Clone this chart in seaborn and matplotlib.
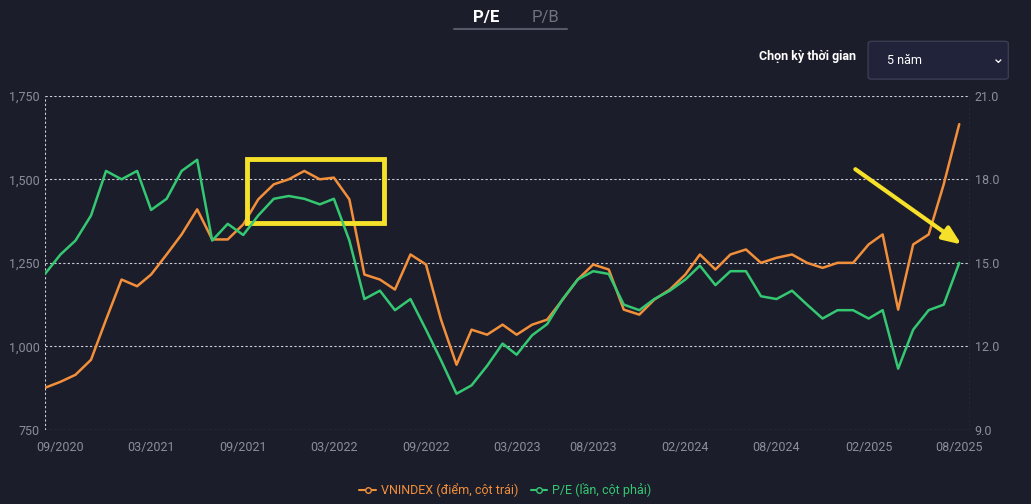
import pandas as pd
import numpy as np
import matplotlib.pyplot as plt
import matplotlib.dates as mdates
from matplotlib.patches import Rectangle, FancyBboxPatch
from matplotlib.lines import Line2D
import seaborn as sns

# monthly readings, Aug 2020 .. Aug 2025
months = pd.date_range('2020-08-01', '2025-08-01', freq='MS')
vnindex = [876, 894, 915, 960, 1080, 1200, 1180, 1215, 1275, 1335, 1410,
           1320, 1320, 1365, 1440, 1485, 1500, 1525, 1500, 1505, 1440, 1215,
           1200, 1170, 1275, 1245, 1080, 945, 1050, 1035, 1065, 1035, 1065,
           1080, 1140, 1200, 1245, 1230, 1110, 1095, 1140, 1170, 1215, 1275,
           1230, 1275, 1290, 1250, 1265, 1275, 1250, 1235, 1250, 1250, 1305,
           1335, 1110, 1305, 1335, 1485, 1665]
pe = [14.6, 15.3, 15.8, 16.7, 18.3, 18.0, 18.3, 16.9, 17.3, 18.3, 18.7,
      15.8, 16.4, 16.0, 16.7, 17.3, 17.4, 17.3, 17.1, 17.3, 15.8, 13.7,
      14.0, 13.3, 13.7, 12.6, 11.5, 10.3, 10.6, 11.3, 12.1, 11.7, 12.4,
      12.8, 13.7, 14.4, 14.7, 14.6, 13.5, 13.3, 13.7, 14.0, 14.4, 14.9,
      14.2, 14.7, 14.7, 13.8, 13.7, 14.0, 13.5, 13.0, 13.3, 13.3, 13.0,
      13.3, 11.2, 12.6, 13.3, 13.5, 15.0]
tick_dates = ['2020-09', '2021-03', '2021-09', '2022-03', '2022-09', '2023-03',
              '2023-08', '2024-02', '2024-08', '2025-02', '2025-08']
tick_labels = [pd.Timestamp(d).strftime('%m/%Y') for d in tick_dates]

df = pd.DataFrame({'date': months, 'vnindex': vnindex, 'pe': pe})

bg = '#1c1d2a'
orange = '#f28f3b'
green = '#34c873'
grey = '#8b8e9a'

sns.set_style('dark')
plt.rcParams['font.family'] = ['Roboto', 'DejaVu Sans']

fig = plt.figure(figsize=(10.31, 5.04), dpi=100, facecolor=bg)
ax = fig.add_axes([0.0436, 0.147, 0.897, 0.663])
ax.set_facecolor(bg)
ax2 = ax.twinx()

sns.lineplot(data=df, x='date', y='vnindex', ax=ax, color=orange, lw=1.8)
sns.lineplot(data=df, x='date', y='pe', ax=ax2, color=green, lw=1.8)

xmin, xmax = pd.Timestamp('2020-08-01'), pd.Timestamp('2025-08-22')
ax.set_xlim(xmin, xmax)
ax.set_ylim(750, 1750)
ax2.set_ylim(9, 21)
ax.set_yticks([750, 1000, 1250, 1500, 1750])
ax.set_yticklabels(['750', '1,000', '1,250', '1,500', '1,750'])
ax2.set_yticks([9, 12, 15, 18, 21])
ax2.set_yticklabels(['9.0', '12.0', '15.0', '18.0', '21.0'])
ax.set_xticks([pd.Timestamp(d) for d in tick_dates])
ax.set_xticklabels(tick_labels)
for a in (ax, ax2):
    a.set_xlabel('')
    a.set_ylabel('')
    a.tick_params(colors=grey, labelsize=9, length=0)
    for s in a.spines.values():
        s.set_visible(False)
ax.tick_params(axis='x', pad=8)
ax.grid(axis='y', color='#d0d0d8', ls=(0, (2, 2)), lw=0.8)
ax.grid(axis='x', visible=False)
ax2.grid(False)
ax.axvline(xmin, color='#d0d0d8', ls=(0, (2, 2)), lw=0.8)
ax.axvline(xmax, color='#d0d0d8', ls=(0, (2, 2)), lw=0.8)
ax.set_axisbelow(True)

# highlight box and arrow
x0 = mdates.date2num(pd.Timestamp('2021-09-08'))
x1 = mdates.date2num(pd.Timestamp('2022-06-10'))
ax.add_patch(Rectangle((x0, 1370), x1 - x0, 190, fill=False,
                       ec='#f5e02a', lw=3.5, zorder=5))
ax.annotate('', xy=(pd.Timestamp('2025-08-10'), 1300),
            xytext=(pd.Timestamp('2025-01-01'), 1535),
            arrowprops=dict(arrowstyle='-|>,head_width=0.45,head_length=1.1',
                            color='#f5e02a', lw=3), zorder=6)

# header controls
fig.text(0.459, 0.966, 'P/E', color='white', fontsize=12, fontweight='bold',
         va='center')
fig.text(0.516, 0.966, 'P/B', color='#6f7280', fontsize=12, va='center')
fig.add_artist(Line2D([0.44, 0.55], [0.942, 0.942], color='#555866', lw=1.5))
fig.text(0.830, 0.888, 'Chọn kỳ thời gian', color='white', fontsize=9,
         fontweight='bold', ha='right', va='center')
fig.add_artist(FancyBboxPatch((0.842, 0.843), 0.136, 0.075,
                              boxstyle='round,pad=0,rounding_size=0.004',
                              fc='#20233a', ec='#3a3d52', lw=1))
fig.text(0.860, 0.880, '5 năm', color='white', fontsize=9, va='center')
fig.text(0.968, 0.882, '⌄', color='white', fontsize=11, va='center',
         ha='center')

handles = [Line2D([], [], color=orange, marker='o', mfc=bg, ms=4, lw=1.5),
           Line2D([], [], color=green, marker='o', mfc=bg, ms=4, lw=1.5)]
leg = fig.legend(handles, ['VNINDEX (điểm, cột trái)', 'P/E (lần, cột phải)'],
                 loc='center', bbox_to_anchor=(0.49, 0.028), ncol=2,
                 frameon=False, fontsize=9, handlelength=1.3,
                 columnspacing=1.0, handletextpad=0.4)
for t, c in zip(leg.get_texts(), [orange, green]):
    t.set_color(c)

fig.savefig('out.png', dpi=100, facecolor=bg)
